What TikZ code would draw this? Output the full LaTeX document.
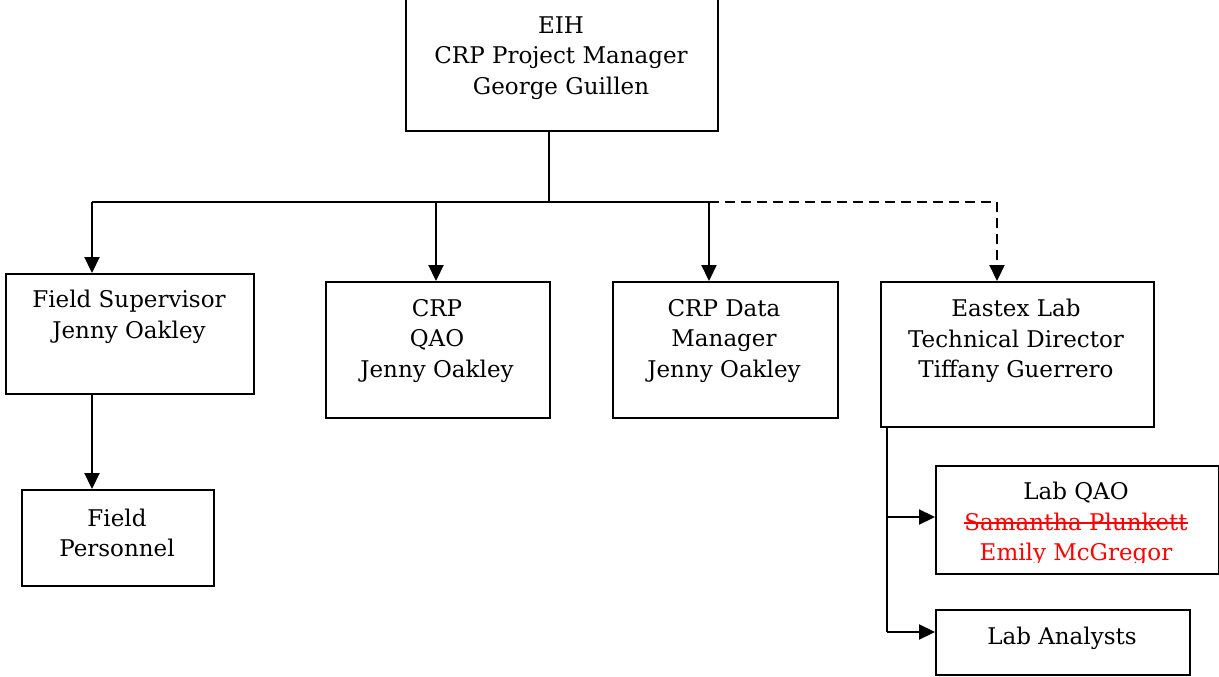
\documentclass[tikz,border=0pt]{standalone}
\usepackage{fontspec}
\setmainfont{DejaVu Serif}
\usetikzlibrary{arrows.meta}
\newcommand\strikeout[1]{\setbox0\hbox{#1}\rlap{\rule[0.28em]{\wd0}{1.8pt}}\box0}
\tikzset{
  box/.style={draw, line width=2pt, inner sep=0pt, anchor=north west},
  txt/.style={align=center, inner sep=0pt, font=\fontsize{23}{30.5}\selectfont},
  conn/.style={line width=2.2pt},
  arr/.style={conn, -{Triangle[length=16pt,width=15pt]}},
  darr/.style={arr, dash pattern=on 10pt off 6pt},
}
\begin{document}
\begin{tikzpicture}[x=1pt,y=-1pt]
\useasboundingbox (0,0) rectangle (1219,677);
% boxes
\node[box, minimum width=312pt, minimum height=135pt] (eih) at (405,-5) {};
\node[box, minimum width=248pt, minimum height=120pt] (fs) at (5,273) {};
\node[box, minimum width=224pt, minimum height=136pt] (qao) at (325,281) {};
\node[box, minimum width=225pt, minimum height=136pt] (dm) at (612,281) {};
\node[box, minimum width=273pt, minimum height=145pt] (ex) at (880,281) {};
\node[box, minimum width=192pt, minimum height=96pt] (fp) at (21,489) {};
\node[box, minimum width=283pt, minimum height=108pt] (lq) at (935,465) {};
\node[box, minimum width=254pt, minimum height=65pt] (la) at (935,609) {};
% texts
\node[txt] (teih) at (561,58) {EIH\\CRP Project Manager\\George Guillen};
\node[txt] (tfs) at (129,317) {Field Supervisor\\Jenny Oakley};
\node[txt] (tqao) at (437,341) {CRP\\QAO\\Jenny Oakley};
\node[txt] (tdm) at (724,341) {CRP Data\\Manager\\Jenny Oakley};
\node[txt] (tex) at (1016,341) {Eastex Lab\\Technical Director\\Tiffany Guerrero};
\node[txt] (tfp) at (117,533) {Field\\Personnel};
\begin{scope}
\clip (936,466) rectangle (1217,562);
\node[txt] (tlq) at (1076,524) {Lab QAO\\\color{red}\strikeout{Samantha Plunkett}\\\color{red}Emily McGregor};
\end{scope}
\node[txt] (tla) at (1062,638) {Lab Analysts};
% connectors
\coordinate (j0) at (549,202);
\coordinate (jl) at (92,202);
\coordinate (jq) at (436,202);
\coordinate (jd) at (709,202);
\coordinate (jr) at (997,202);
\draw[conn] (eih.south -| j0) -- (j0);
\draw[conn] (jl) -- (jd);
\draw[conn, dash pattern=on 10pt off 6pt] (jd) -- (jr);
\draw[arr] (jl) -- (jl |- fs.north);
\draw[arr] (jq) -- (jq |- qao.north);
\draw[arr] (jd) -- (jd |- dm.north);
\draw[darr] (jr) -- (jr |- ex.north);
\draw[arr] (fs.south -| jl) -- (fp.north -| jl);
\coordinate (ex0) at (887,426);
\coordinate (e1) at (887,517);
\coordinate (e2) at (887,632);
\draw[conn] (ex0) -- (e2);
\draw[arr] (e1) -- (e1 -| lq.west);
\draw[arr] (e2) -- (e2 -| la.west);
\end{tikzpicture}
\end{document}
